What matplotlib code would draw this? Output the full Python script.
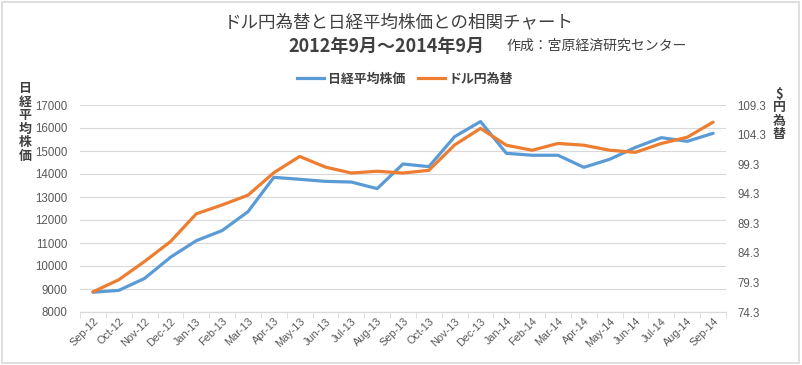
import numpy as np
import matplotlib
matplotlib.use('Agg')
import matplotlib.pyplot as plt
from matplotlib.lines import Line2D
from matplotlib.patches import Rectangle

plt.rcParams['font.family'] = ['Noto Sans CJK JP', 'DejaVu Sans']

######### Data #########
months = ['Sep-12', 'Oct-12', 'Nov-12', 'Dec-12', 'Jan-13', 'Feb-13', 'Mar-13',
          'Apr-13', 'May-13', 'Jun-13', 'Jul-13', 'Aug-13', 'Sep-13', 'Oct-13',
          'Nov-13', 'Dec-13', 'Jan-14', 'Feb-14', 'Mar-14', 'Apr-14', 'May-14',
          'Jun-14', 'Jul-14', 'Aug-14', 'Sep-14']
nikkei = [8860, 8940, 9460, 10380, 11100, 11540, 12360, 13855, 13770, 13680,
          13650, 13365, 14435, 14320, 15625, 16280, 14900, 14815, 14815, 14290,
          14640, 15160, 15580, 15420, 15770]
usdjpy = [77.7, 79.75, 82.85, 86.2, 90.9, 92.4, 94.05, 97.85, 100.6, 98.8,
          97.8, 98.1, 97.8, 98.25, 102.55, 105.35, 102.5, 101.65, 102.8, 102.5,
          101.65, 101.3, 102.8, 103.85, 106.4]
left_ticks = list(range(8000, 17001, 1000))
right_ticks = [74.3, 79.3, 84.3, 89.3, 94.3, 99.3, 104.3, 109.3]

blue = '#5B9BD5'
orange = '#ED7D31'
txt = '#404040'
tick_col = '#595959'
grid_col = '#D9D9D9'
num_font = ['Liberation Sans', 'DejaVu Sans']

fig = plt.figure(figsize=(8.02, 3.65), dpi=100)
ax1 = fig.add_axes([80 / 802, 53 / 365, 646 / 802, 207 / 365])
ax2 = ax1.twinx()

x = np.arange(len(months))
ax1.plot(x, nikkei, color=blue, linewidth=2.3,
         solid_joinstyle='round', solid_capstyle='round')
ax2.plot(x, usdjpy, color=orange, linewidth=2.3,
         solid_joinstyle='round', solid_capstyle='round')

ax1.set_xlim(-0.5, len(months) - 0.5)
ax1.set_ylim(8000, 17000)
ax2.set_ylim(74.3, 109.3)
ax1.set_yticks(left_ticks)
ax2.set_yticks(right_ticks)
ax1.set_yticklabels([str(v) for v in left_ticks], fontsize=8.3,
                    color=tick_col, family=num_font)
ax2.set_yticklabels(['%.1f' % v for v in right_ticks], fontsize=8.3,
                    color=tick_col, family=num_font)
ax1.tick_params(axis='y', length=0, pad=9)
ax2.tick_params(axis='y', length=0, pad=8)

ax1.set_xticks(x)
ax1.set_xticklabels(months, rotation=45, ha='right', rotation_mode='anchor',
                    fontsize=7.8, color=tick_col, family=num_font)
ax1.set_xticks(np.arange(-0.5, len(months)), minor=True)
ax1.tick_params(axis='x', which='major', length=0, pad=3)
ax1.tick_params(axis='x', which='minor', length=4, color=grid_col, direction='out')

ax1.grid(axis='y', color=grid_col, linewidth=0.8)
ax1.set_axisbelow(True)
for a in (ax1, ax2):
    for s in ['top', 'left', 'right']:
        a.spines[s].set_visible(False)
    a.spines['bottom'].set_color(grid_col)
    a.spines['bottom'].set_linewidth(0.8)

# titles
fig.text(0.497, 1 - 22 / 365, 'ドル円為替と日経平均株価との相関チャート',
         ha='center', va='center', fontsize=12.6, color=txt)
fig.text(386 / 802, 1 - 47 / 365, '2012年9月～2014年9月', ha='center',
         va='center', fontsize=13, fontweight='bold', color=txt)
fig.text(597 / 802, 1 - 46 / 365, '作成：宮原経済研究センター', ha='center',
         va='center', fontsize=10, color=txt)

# axis titles (vertical stacked)
fig.text(25 / 802, 1 - 122 / 365, '日\n経\n平\n均\n株\n価', ha='center',
         va='center', fontsize=9.3, fontweight='bold', color=txt, linespacing=0.95)
fig.text(779 / 802, 1 - 114 / 365, '\\$\n円\n為\n替', ha='center',
         va='center', fontsize=9.3, fontweight='bold', color=txt, linespacing=0.95)

# legend
handles = [Line2D([], [], color=blue, linewidth=2.3),
           Line2D([], [], color=orange, linewidth=2.3)]
fig.legend(handles, ['日経平均株価', 'ドル円為替'], loc='center',
           bbox_to_anchor=(405 / 802, 1 - 79 / 365), ncol=2, frameon=False,
           prop={'size': 9.3, 'weight': 'bold'}, labelcolor=txt,
           handlelength=2.1, handletextpad=0.3, columnspacing=1.0)

# chart border
fig.patches.append(Rectangle((2 / 802, 2 / 365), 797 / 802, 361 / 365,
                             transform=fig.transFigure, fill=False,
                             edgecolor='#D9D9D9', linewidth=1.2))

fig.savefig('out.png', dpi=100)
